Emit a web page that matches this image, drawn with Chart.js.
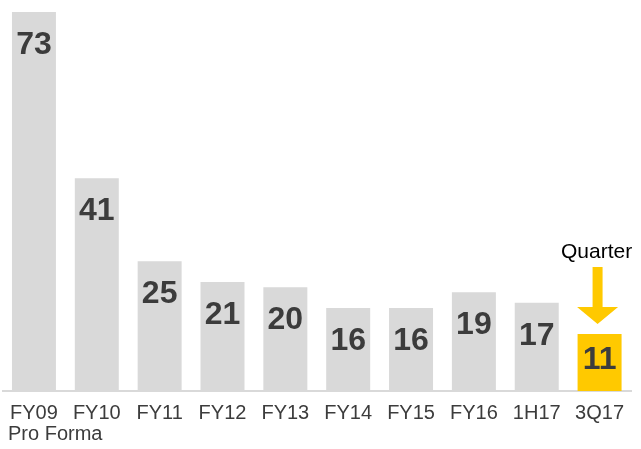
<!DOCTYPE html>
<html>
<head>
<meta charset="utf-8">
<script src="https://cdn.jsdelivr.net/npm/chart.js@4/dist/chart.umd.min.js"></script>
<style>
  html, body { margin: 0; padding: 0; background: #ffffff; }
  #wrap { width: 641px; height: 449px; }
</style>
</head>
<body>
<div id="wrap"><canvas id="chart"></canvas></div>
<script>
// chart data
const categories = ['FY09', 'FY10', 'FY11', 'FY12', 'FY13', 'FY14', 'FY15', 'FY16', '1H17', '3Q17'];
const subLabels = ['Pro Forma', '', '', '', '', '', '', '', '', ''];
const values = [73, 41, 25, 21, 20, 16, 16, 19, 17, 11];
const highlight = [false, false, false, false, false, false, false, false, false, true];
const calloutText = 'Quarter';

const GREY = '#d9d9d9';
const YELLOW = '#ffc900';
const TEXT = '#3c3c3c';
const FONT = '"Liberation Sans", Arial, sans-serif';

// value labels inside bars + sub labels + quarter arrow
const extrasPlugin = {
    id: 'extras',
    afterDatasetsDraw(chart) {
        const ctx = chart.ctx;
        const meta = chart.getDatasetMeta(0);
        ctx.save();

        // values inside bars
        ctx.font = 'bold 32px ' + FONT;
        ctx.fillStyle = TEXT;
        ctx.textAlign = 'center';
        ctx.textBaseline = 'middle';
        meta.data.forEach((bar, i) => {
            const y = Math.min(bar.y + 33, (bar.y + bar.base) / 2 - 2);
            ctx.fillText(String(values[i]), bar.x, y);
        });

        // second line of tick labels
        ctx.font = '20px ' + FONT;
        ctx.textAlign = 'left';
        const xScale = chart.scales.x;
        subLabels.forEach((txt, i) => {
            if (!txt) return;
            const w = ctx.measureText(txt).width;
            const x = Math.max(8, xScale.getPixelForValue(i) - w / 2);
            ctx.fillText(txt, x, chart.chartArea.bottom + 43);
        });

        // arrow + text above the highlighted bar
        const idx = highlight.indexOf(true);
        if (idx >= 0) {
            const bar = meta.data[idx];
            const cx = bar.x - 2;
            const tipY = bar.y - 10;
            ctx.fillStyle = YELLOW;
            ctx.beginPath();
            ctx.moveTo(cx - 5, tipY - 57);
            ctx.lineTo(cx + 5, tipY - 57);
            ctx.lineTo(cx + 5, tipY - 17);
            ctx.lineTo(cx + 20.5, tipY - 17);
            ctx.lineTo(cx, tipY);
            ctx.lineTo(cx - 20.5, tipY - 17);
            ctx.lineTo(cx - 5, tipY - 17);
            ctx.closePath();
            ctx.fill();

            ctx.fillStyle = '#000000';
            ctx.font = '21px ' + FONT;
            ctx.textAlign = 'center';
            ctx.textBaseline = 'alphabetic';
            ctx.fillText(calloutText, cx - 1, tipY - 66);
        }
        ctx.restore();
    }
};

const ctx = document.getElementById('chart').getContext('2d');
new Chart(ctx, {
    type: 'bar',
    data: {
        labels: categories,
        datasets: [{
            data: values,
            backgroundColor: highlight.map(h => h ? YELLOW : GREY),
            borderWidth: 0,
            categoryPercentage: 1,
            barPercentage: 0.70
        }]
    },
    options: {
        responsive: true,
        maintainAspectRatio: false,
        animation: false,
        layout: {
            padding: { top: 12, left: 1, right: 10, bottom: 0 }
        },
        plugins: {
            legend: { display: false },
            tooltip: { enabled: false }
        },
        scales: {
            x: {
                grid: { display: false, drawTicks: false },
                border: { color: GREY, width: 2 },
                ticks: {
                    color: TEXT,
                    font: { family: FONT, size: 20 },
                    padding: 10,
                    maxRotation: 0,
                    autoSkip: false
                },
                afterFit: function(scale) {
                    scale.height = 58;
                }
            },
            y: {
                display: false,
                min: 0,
                max: 73
            }
        }
    },
    plugins: [extrasPlugin]
});
</script>
</body>
</html>
